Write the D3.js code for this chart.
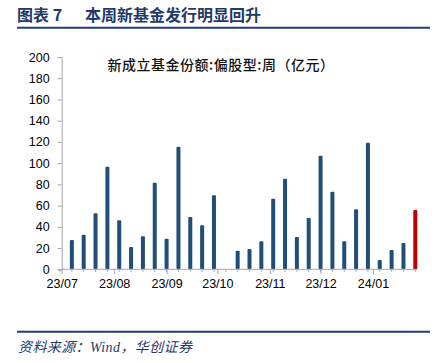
<!DOCTYPE html>
<html><head><meta charset="utf-8">
<script src="https://cdn.jsdelivr.net/npm/d3@7"></script>
<style>
html,body{margin:0;padding:0;background:#fff;}
svg{display:block;}
</style></head>
<body>
<svg id="chart" width="445" height="363"></svg>
<script>
const weeks = ["2023-06-30","2023-07-07","2023-07-14","2023-07-21","2023-07-28","2023-08-04","2023-08-11","2023-08-18","2023-08-25","2023-09-01","2023-09-08","2023-09-15","2023-09-22","2023-09-29","2023-10-06","2023-10-13","2023-10-20","2023-10-27","2023-11-03","2023-11-10","2023-11-17","2023-11-24","2023-12-01","2023-12-08","2023-12-15","2023-12-22","2023-12-29","2024-01-05","2024-01-12","2024-01-19","2024-01-26"];
const shares = [63,27.6,32.6,52.7,96.7,46.1,21,31.1,81.6,28.8,115.5,49.3,41.4,69.7,0,17.5,19.1,26.4,66.5,85.4,30.4,48.3,107,73.1,26.4,56.5,119.3,8.8,18.2,24.8,55.9];
const yTicks = [0,20,40,60,80,100,120,140,160,180,200];
const monthTicks = ["2023-07-01","2023-08-01","2023-09-01","2023-10-01","2023-11-01","2023-12-01","2024-01-01"];
const titleLabel = "图表 7";
const titleText = "本周新基金发行明显回升";
const seriesName = "新成立基金份额:偏股型:周（亿元）";
const sourceText = "资料来源：Wind，华创证券";

const parse = d3.timeParse("%Y-%m-%d");
const data = weeks.map((w,i)=>({date:parse(w), value:shares[i], last:i===weeks.length-1}));

const svg = d3.select("#chart");
const x0 = 61.7, x1 = 417, yB = 269.3, yT = 57;
const x = d3.scaleTime().domain([parse("2023-07-01"), parse("2024-01-27")]).range([x0, x1]);
const y = d3.scaleLinear().domain([0,200]).range([yB, yT]);

// header
const hdr = svg.append("g").attr("font-family","'Noto Sans CJK SC', sans-serif").attr("font-weight","bold")
  .attr("font-size",16).attr("fill","#1f3a68");
hdr.append("text").attr("x",17).attr("y",21).text(titleLabel);
hdr.append("text").attr("x",85).attr("y",21).text(titleText);
svg.append("line").attr("x1",17).attr("x2",430).attr("y1",27.7).attr("y2",27.7)
  .attr("stroke","#1f3f7a").attr("stroke-width",2);

// footer
svg.append("line").attr("x1",17).attr("x2",430).attr("y1",331.7).attr("y2",331.7)
  .attr("stroke","#1f3f7a").attr("stroke-width",2);
svg.append("text").attr("x",18).attr("y",352)
  .attr("font-family","'Liberation Serif','Noto Sans CJK SC', serif").attr("font-style","italic")
  .attr("font-size",14).attr("letter-spacing",0.4).attr("fill","#1f3a68").text(sourceText);

// series title
svg.append("text").attr("x",221).attr("y",70).attr("text-anchor","middle")
  .attr("font-family","'Noto Sans CJK SC', sans-serif").attr("font-weight","500")
  .attr("font-size",14).attr("letter-spacing",0.5).attr("fill","#111").text(seriesName);

// y axis
const yAxis = d3.axisLeft(y).tickValues(yTicks).tickSize(4).tickPadding(8);
const gy = svg.append("g").attr("transform",`translate(${x0},0)`).call(yAxis);
gy.select(".domain").attr("stroke","#a6a6a6");
gy.selectAll(".tick line").attr("stroke","#a6a6a6");
gy.selectAll("text").attr("font-family","'Liberation Sans', Arial, sans-serif").attr("font-size",12.5).attr("fill","#000");

// clip
svg.append("clipPath").attr("id","plotclip").append("rect")
  .attr("x",x0+0.3).attr("y",yT-5).attr("width",x1-x0+5).attr("height",yB-yT+5);

// bars
const bw = 4;
svg.append("g").attr("clip-path","url(#plotclip)").selectAll("rect").data(data).enter().append("rect")
  .attr("x",d=>x(d.date)-bw/2).attr("width",bw)
  .attr("y",d=>y(d.value)).attr("height",d=>yB-y(d.value))
  .attr("rx",1)
  .attr("fill",d=>d.last?"#c00000":"#1f4e79");

// x axis: weekly minor ticks
svg.append("g").selectAll("line").data(data).enter().append("line")
  .attr("x1",d=>x(d.date)).attr("x2",d=>x(d.date))
  .attr("y1",yB).attr("y2",yB+2.5).attr("stroke","#9aa7b8").attr("stroke-width",1);

const xAxis = d3.axisBottom(x).tickValues(monthTicks.map(parse)).tickFormat(d3.timeFormat("%y/%m")).tickSize(5).tickPadding(5);
const gx = svg.append("g").attr("transform",`translate(0,${yB})`).call(xAxis);
gx.select(".domain").attr("stroke","#a6a6a6").attr("d",`M${x0},0H${x1}`);
gx.selectAll(".tick line").attr("stroke","#a6a6a6");
gx.selectAll("text").attr("font-family","'Liberation Sans', Arial, sans-serif").attr("font-size",12.5).attr("fill","#000");
</script>
</body></html>
